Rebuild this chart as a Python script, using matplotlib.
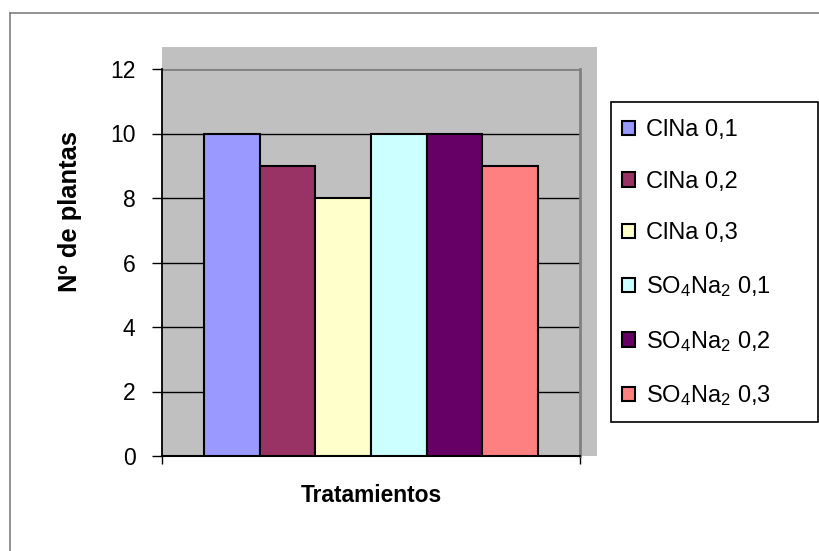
import matplotlib
matplotlib.use("Agg")
import matplotlib.pyplot as plt
from matplotlib.patches import Rectangle, Patch
from matplotlib.lines import Line2D

plt.rcParams['font.family'] = ['Liberation Sans', 'DejaVu Sans']
plt.rcParams['mathtext.fontset'] = 'custom'
plt.rcParams['mathtext.rm'] = 'Liberation Sans'
plt.rcParams['mathtext.default'] = 'regular'

# Data
treatments = ["ClNa 0,1", "ClNa 0,2", "ClNa 0,3",
              r"SO$_4$Na$_2$ 0,1", r"SO$_4$Na$_2$ 0,2", r"SO$_4$Na$_2$ 0,3"]
plants = [10, 9, 8, 10, 10, 9]
colors = ["#9999FF", "#993366", "#FFFFCC", "#CCFFFF", "#660066", "#FF8080"]
y_ticks = [0, 2, 4, 6, 8, 10, 12]

W, H = 820, 551
fig = plt.figure(figsize=(W / 100, H / 100), dpi=100)


def fx(px):
    return px / W


def fy(py):
    return 1 - py / H


# Outer chart border (left and top edges)
fig.add_artist(Line2D([fx(10), fx(10)], [fy(13), 0], color="#808080", lw=1.2))
fig.add_artist(Line2D([fx(10), 1], [fy(13), fy(13)], color="#808080", lw=1.2))

# Gray plot-area background
fig.add_artist(Rectangle((fx(162), fy(456)), fx(597) - fx(162), fy(47) - fy(456),
                         transform=fig.transFigure, facecolor="#C0C0C0",
                         edgecolor="none", zorder=0))

ax = fig.add_axes([fx(162), fy(456), fx(580) - fx(162), fy(69) - fy(456)])
ax.patch.set_visible(False)

n = len(plants)
group = 0.8
bw = group / n
xs = [-group / 2 + bw * (i + 0.5) for i in range(n)]
bars = ax.bar(xs, plants, width=bw, color=colors, edgecolor="black",
              linewidth=1.5, zorder=3)

ax.set_xlim(-0.5, 0.5)
ax.set_ylim(0, 12)
ax.set_yticks(y_ticks)
ax.set_yticklabels([str(v) for v in y_ticks], fontsize=16.5)
ax.set_xticks([-0.5, 0.5])
ax.set_xticklabels([])
ax.tick_params(axis="y", direction="out", length=7, width=1, pad=12)
ax.tick_params(axis="x", direction="out", length=6, width=1)

# Gridlines
for v in y_ticks[1:-1]:
    ax.axhline(v, color="black", lw=1, zorder=1)
ax.axhline(12, color="#808080", lw=2, zorder=1)

ax.spines["top"].set_visible(False)
ax.spines["right"].set_color("#808080")
ax.spines["right"].set_linewidth(2)
ax.spines["left"].set_linewidth(1.3)
ax.spines["bottom"].set_linewidth(1.5)

# Axis titles
fig.text(fx(70), fy(212), "Nº de plantas", fontsize=18.4, fontweight="bold",
         rotation=90, ha="center", va="center")
fig.text(fx(371), fy(495), "Tratamientos", fontsize=16.4, fontweight="bold",
         ha="center", va="center")

# Legend frame
fig.add_artist(Rectangle((fx(611), fy(422)), fx(818) - fx(611), fy(102) - fy(422),
                         transform=fig.transFigure, facecolor="white",
                         edgecolor="black", lw=1.2, zorder=1))

handles = [Patch(facecolor=c, edgecolor="black", linewidth=1.5) for c in colors]
leg = fig.legend(handles, treatments, loc="upper left",
                 bbox_to_anchor=(fx(622), fy(119)), frameon=False,
                 fontsize=17, borderpad=0, borderaxespad=0,
                 labelspacing=1.26, handlelength=0.55, handleheight=0.55,
                 handletextpad=0.45)
leg.set_zorder(5)

fig.savefig("out.png", dpi=100)
